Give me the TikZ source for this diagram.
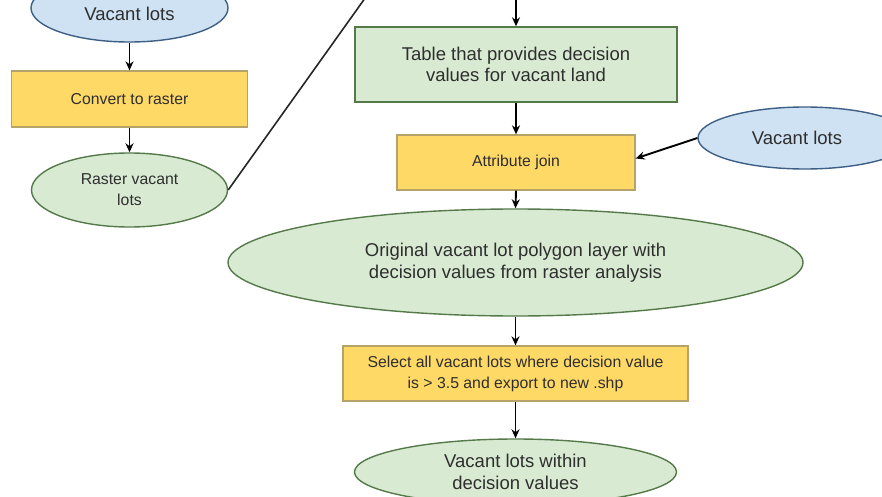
\documentclass[tikz,border=0pt]{standalone}
\usepackage{fontspec}
\setmainfont{Liberation Sans}
\usetikzlibrary{shapes.geometric,arrows.meta}
\definecolor{bluefill}{HTML}{CFE2F3}
\definecolor{blueline}{HTML}{3D5F85}
\definecolor{greenfill}{HTML}{D9EAD3}
\definecolor{greenline}{HTML}{557A4A}
\definecolor{yellowfill}{HTML}{FFD966}
\definecolor{yellowline}{HTML}{B5A36A}
\definecolor{txt}{HTML}{2E2E2E}
\tikzset{
  bigtext/.style={font=\fontsize{18.5}{21.5}\selectfont, text=txt, align=center},
  smalltext/.style={font=\fontsize{15.8}{21}\selectfont, text=txt, align=center},
  blueell/.style={ellipse, draw=blueline, fill=bluefill, line width=1.4pt, inner sep=0pt},
  greenell/.style={ellipse, draw=greenline, fill=greenfill, line width=1.4pt, inner sep=0pt},
  greenbox/.style={rectangle, draw=greenline, fill=greenfill, line width=1.4pt, inner sep=0pt},
  yellowbox/.style={rectangle, draw=yellowline, fill=yellowfill, line width=1.3pt, inner sep=0pt},
  flow/.style={draw=black, line width=1.9pt, -{Stealth[length=9pt,width=8pt]}},
  plain/.style={draw=black!85, line width=1.6pt}
}
\begin{document}
\begin{tikzpicture}[x=1pt,y=-1pt]
\useasboundingbox (0,0) rectangle (882,497);
\clip (0,0) rectangle (882,497);
\fill[white] (0,0) rectangle (882,497);

% left column
\node[blueell, minimum width=197pt, minimum height=68pt,
      label={[bigtext, yshift=-6pt]center:Vacant lots}] (vl1) at (129.5,8) {};
\node[yellowbox, smalltext, minimum width=236pt, minimum height=56pt] (conv) at (129.5,99) {Convert to raster};
\node[greenell, smalltext, minimum width=196pt, minimum height=74pt] (rast) at (129.5,190) {Raster vacant\\lots};

% main column
\coordinate (tabin) at (516,-6);
\coordinate (lineend) at (368,-6);
\node[greenbox, bigtext, minimum width=322pt, minimum height=75pt] (tab) at (516,64.5) {Table that provides decision\\values for vacant land};
\node[yellowbox, smalltext, minimum width=238pt, minimum height=55pt] (attr) at (516,162.5) {Attribute join};
\node[blueell, bigtext, minimum width=214pt, minimum height=62pt] (vl2) at (805,138) {\hspace*{-16pt}Vacant lots};
\node[greenell, bigtext, minimum width=575pt, minimum height=107pt] (orig) at (515.5,262.5) {Original vacant lot polygon layer with\\decision values from raster analysis};
\node[yellowbox, smalltext, minimum width=345pt, minimum height=55pt] (sel) at (515.5,373.5) {Select all vacant lots where decision value\\is > 3.5 and export to new .shp};
\node[greenell, bigtext, minimum width=322pt, minimum height=66pt] (fin) at (515.5,472) {Vacant lots within\\decision values};

% connectors
\draw[flow] (vl1.south) -- (conv.north);
\draw[flow] (conv.south) -- (rast.north);
\draw[plain] (rast.east) -- (lineend);
\draw[flow] (tabin) -- (tab.north);
\draw[flow] (tab.south) -- (attr.north);
\draw[flow] (vl2.west) -- ([yshift=4pt]attr.east);
\draw[flow] (attr.south) -- (orig.north);
\draw[flow] (orig.south) -- (sel.north);
\draw[flow] (sel.south) -- (fin.north);
\end{tikzpicture}
\end{document}
